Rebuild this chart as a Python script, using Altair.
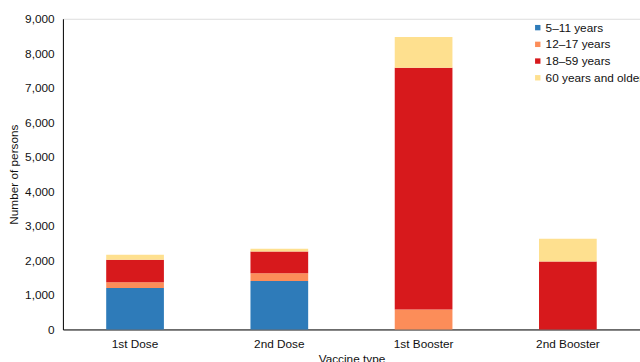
import altair as alt
import pandas as pd

doses = ["1st Dose", "2nd Dose", "1st Booster", "2nd Booster"]
groups = ["5–11 years", "12–17 years", "18–59 years", "60 years and older"]
colors = ["#2e7bb9", "#fc8d59", "#d7191c", "#fee08f"]

v_5_11 = [1200, 1400, 0, 0]
v_12_17 = [170, 230, 580, 0]
v_18_59 = [650, 625, 7000, 1970]
v_60 = [145, 85, 890, 660]

series = [v_5_11, v_12_17, v_18_59, v_60]
rows = []
for gi, (g, vals) in enumerate(zip(groups, series)):
    for d, v in zip(doses, vals):
        rows.append({"dose": d, "group": g, "value": v, "ord": gi})
df = pd.DataFrame(rows)

font = "Liberation Sans"

chart = alt.Chart(df).mark_bar().encode(
    x=alt.X("dose:N", sort=doses, title="Vaccine type",
            scale=alt.Scale(paddingInner=0.6, paddingOuter=0.3),
            axis=alt.Axis(labelAngle=0, ticks=False, domainColor="#000000",
                          labelFontSize=12, labelFont=font, labelColor="#111",
                          labelPadding=9, titleFontSize=12, titleFont=font,
                          titleFontWeight="normal", titlePadding=5, titleColor="#111")),
    y=alt.Y("value:Q", stack="zero", title="Number of persons",
            scale=alt.Scale(domain=[0, 9000], nice=False),
            axis=alt.Axis(values=list(range(0, 9001, 1000)), format=",.0f", grid=False,
                          ticks=False, domainColor="#000000", labelFontSize=12,
                          labelFont=font, labelColor="#111", labelPadding=9,
                          titleFontSize=12, titleFont=font, titleFontWeight="normal",
                          titlePadding=4, titleColor="#111")),
    color=alt.Color("group:N", sort=groups, scale=alt.Scale(domain=groups, range=colors),
                    legend=alt.Legend(title=None, orient="none", legendX=477, legendY=3,
                                      symbolType="square", symbolSize=30,
                                      symbolStrokeWidth=0, labelFontSize=12,
                                      labelFont=font, labelColor="#111",
                                      rowPadding=5, labelOffset=2)),
    order=alt.Order("ord:Q", sort="ascending"),
).properties(
    width=587, height=316,
    autosize=alt.AutoSizeParams(type="none"),
    padding={"left": 64, "top": 16, "right": 0, "bottom": 30},
).configure_view(stroke=None).configure(background="white")

chart.save("out.html", embed_options={"renderer": "svg", "actions": False})
